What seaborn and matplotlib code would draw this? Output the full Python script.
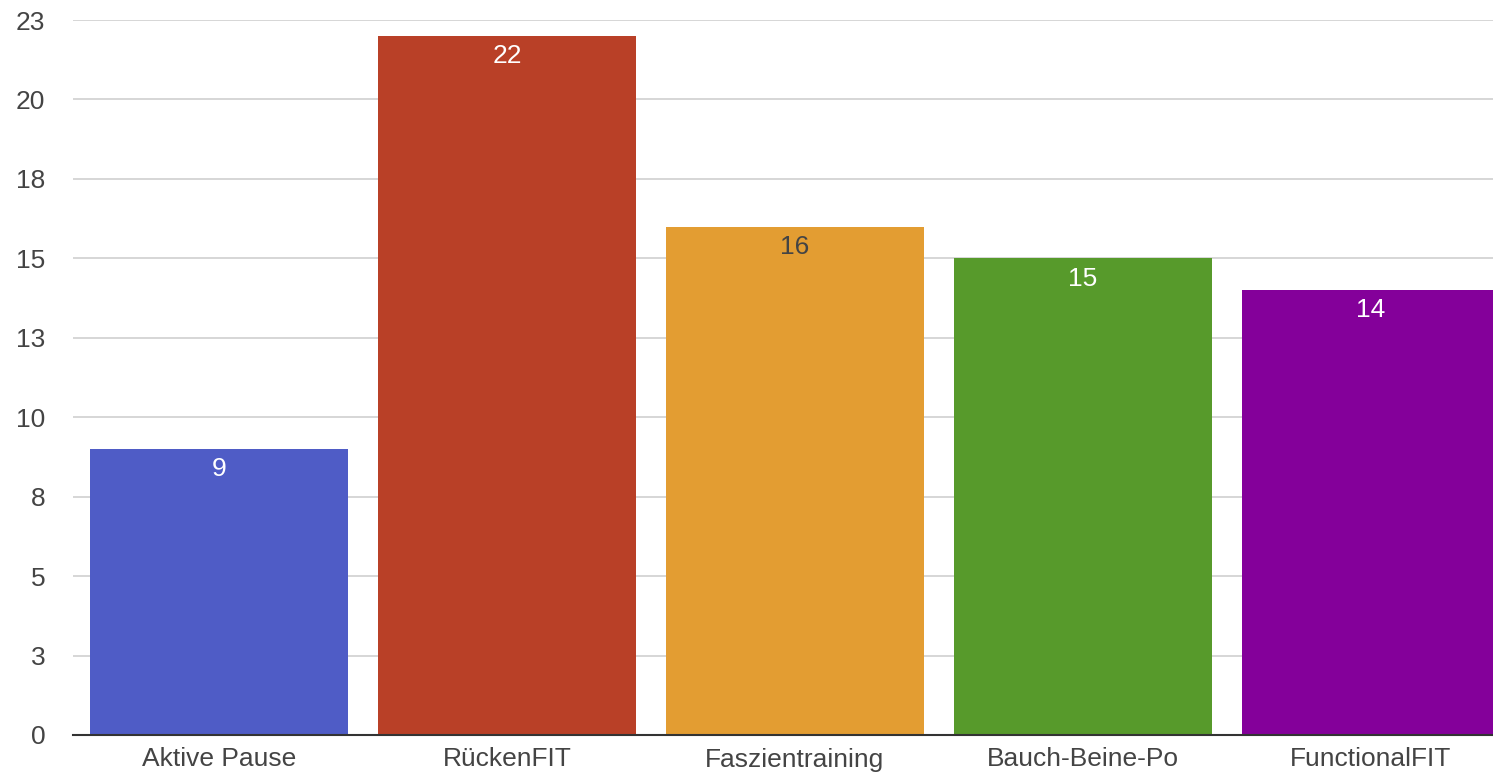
import matplotlib
matplotlib.use("Agg")
import matplotlib.pyplot as plt
import seaborn as sns
import pandas as pd
import numpy as np

categories = ["Aktive Pause", "RückenFIT", "Faszientraining", "Bauch-Beine-Po", "FunctionalFIT"]
values = [9, 22, 16, 15, 14]
colors = ["#4F5CC6", "#B94027", "#E39D32", "#579A2B", "#84009A"]
label_colors = ["white", "white", "#444444", "white", "white"]
yticks = [0, 2.5, 5, 7.5, 10, 12.5, 15, 17.5, 20, 22.5]
ytick_labels = ["0", "3", "5", "8", "10", "13", "15", "18", "20", "23"]

sns.set_theme(style="white")
plt.rcParams["font.family"] = ["Liberation Sans", "DejaVu Sans"]

df = pd.DataFrame({"cat": categories, "val": values})

fig = plt.figure(figsize=(14.93, 7.74), dpi=100)
ax = fig.add_axes([73 / 1493, 39 / 774, 1 - 73 / 1493, (735 - 20) / 774])

sns.barplot(data=df, x="cat", y="val", hue="cat", palette=colors, dodge=False,
            width=0.896, legend=False, ax=ax, saturation=1, zorder=3,
            linewidth=0)

ax.set_ylim(0, 22.5)
ax.set_xlim(-0.507, 4.424)
ax.set_yticks(yticks)
ax.set_yticklabels(ytick_labels)
ax.yaxis.grid(True, color="#D0D0D0", linewidth=1.2, zorder=0)
ax.xaxis.grid(False)
for s in ["top", "right", "left"]:
    ax.spines[s].set_visible(False)
ax.spines["bottom"].set_color("#333333")
ax.spines["bottom"].set_linewidth(1.5)
ax.spines["bottom"].set_zorder(5)
ax.set_xlabel("")
ax.set_ylabel("")
ax.tick_params(axis="both", length=0, labelsize=19, labelcolor="#444444")
ax.tick_params(axis="y", pad=20)
ax.tick_params(axis="x", pad=9)
for lbl in ax.get_yticklabels():
    lbl.set_horizontalalignment("right")

for i, (v, c) in enumerate(zip(values, label_colors)):
    ax.annotate(str(v), (i, v), xytext=(0, -6), textcoords="offset points",
                ha="center", va="top", fontsize=19, color=c, zorder=6)

fig.savefig("out.png", dpi=100)
